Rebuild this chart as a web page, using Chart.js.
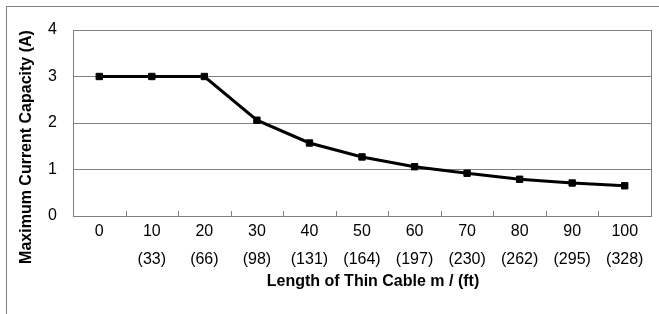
<!DOCTYPE html>
<html>
<head>
<meta charset="utf-8">
<script src="https://cdn.jsdelivr.net/npm/chart.js@4.4.1/dist/chart.umd.min.js"></script>
<style>
  html, body { margin: 0; padding: 0; background: #fff; overflow: hidden; }
  #frame {
    position: absolute; left: 6px; top: 6px; width: 700px; height: 400px;
    border-left: 1px solid #808080; border-top: 1px solid #808080;
  }
  #chart { position: absolute; left: 0; top: 0; }
</style>
</head>
<body>
<div id="frame"></div>
<canvas id="chart" width="659" height="314"></canvas>
<script>
// --- DATA ---
const lengthsM = ["0", "10", "20", "30", "40", "50", "60", "70", "80", "90", "100"];
const lengthsFt = ["", "(33)", "(66)", "(98)", "(131)", "(164)", "(197)", "(230)", "(262)", "(295)", "(328)"];
const currentA = [3.0, 3.0, 3.0, 2.06, 1.57, 1.27, 1.06, 0.92, 0.79, 0.71, 0.65];
const yTicks = [0, 1, 2, 3, 4];

const yTitle = "Maximum Current Capacity (A)";
const xTitle = "Length of Thin Cable m / (ft)";

const FONT = "'Liberation Sans', Arial, sans-serif";
const GRAY = "#808080";

// frame around plot, inward tick marks, axis titles
const decorPlugin = {
    id: "decor",
    afterDraw(chart) {
        const ctx = chart.ctx;
        const a = chart.chartArea;
        const xs = chart.scales.x;

        ctx.save();
        ctx.strokeStyle = GRAY;
        ctx.lineWidth = 1;
        ctx.strokeRect(Math.round(a.left) + 0.5, Math.round(a.top) + 0.5,
            Math.round(a.right - a.left), Math.round(a.bottom - a.top));

        // tick marks between categories, pointing into the plot
        ctx.beginPath();
        for (let i = 1; i < lengthsM.length; i++) {
            const x = Math.round((xs.getPixelForTick(i - 1) + xs.getPixelForTick(i)) / 2) + 0.5;
            ctx.moveTo(x, a.bottom);
            ctx.lineTo(x, a.bottom - 5);
        }
        ctx.stroke();

        // axis titles
        ctx.fillStyle = "#000";
        ctx.font = "bold 16px " + FONT;
        ctx.textAlign = "center";
        ctx.textBaseline = "middle";
        ctx.fillText(xTitle, (a.left + a.right) / 2 + 11, 282);

        ctx.translate(27, 147);
        ctx.rotate(-Math.PI / 2);
        ctx.fillText(yTitle, 0, 0);
        ctx.restore();
    }
};

new Chart(document.getElementById("chart"), {
    type: "line",
    data: {
        labels: lengthsM.map((m, i) => [m, lengthsFt[i]]),
        datasets: [{
            data: currentA,
            borderColor: "#000",
            backgroundColor: "#000",
            borderWidth: 3,
            pointStyle: "rect",
            pointRadius: 4.5,
            pointBorderWidth: 1,
            pointBackgroundColor: "#000",
            pointBorderColor: "#000",
            tension: 0,
            fill: false
        }]
    },
    options: {
        responsive: false,
        devicePixelRatio: 1,
        animation: false,
        layout: { padding: { left: 0, top: 30, right: 8, bottom: 0 } },
        plugins: {
            legend: { display: false },
            tooltip: { enabled: false }
        },
        scales: {
            x: {
                type: "category",
                offset: true,
                grid: { display: false, drawTicks: false },
                border: { display: false },
                ticks: {
                    color: "#000",
                    font: { family: FONT, size: 16, lineHeight: 1.75 },
                    padding: 2,
                    maxRotation: 0,
                    autoSkip: false
                },
                afterFit(scale) { scale.height = 98; }
            },
            y: {
                min: yTicks[0],
                max: yTicks[yTicks.length - 1],
                afterBuildTicks(scale) { scale.ticks = yTicks.map(v => ({ value: v })); },
                grid: { color: GRAY, lineWidth: 1, drawTicks: false },
                border: { display: false },
                ticks: {
                    color: "#000",
                    font: { family: FONT, size: 16 },
                    padding: 16
                },
                afterFit(scale) { scale.width = 73; }
            }
        }
    },
    plugins: [decorPlugin]
});
</script>
</body>
</html>
